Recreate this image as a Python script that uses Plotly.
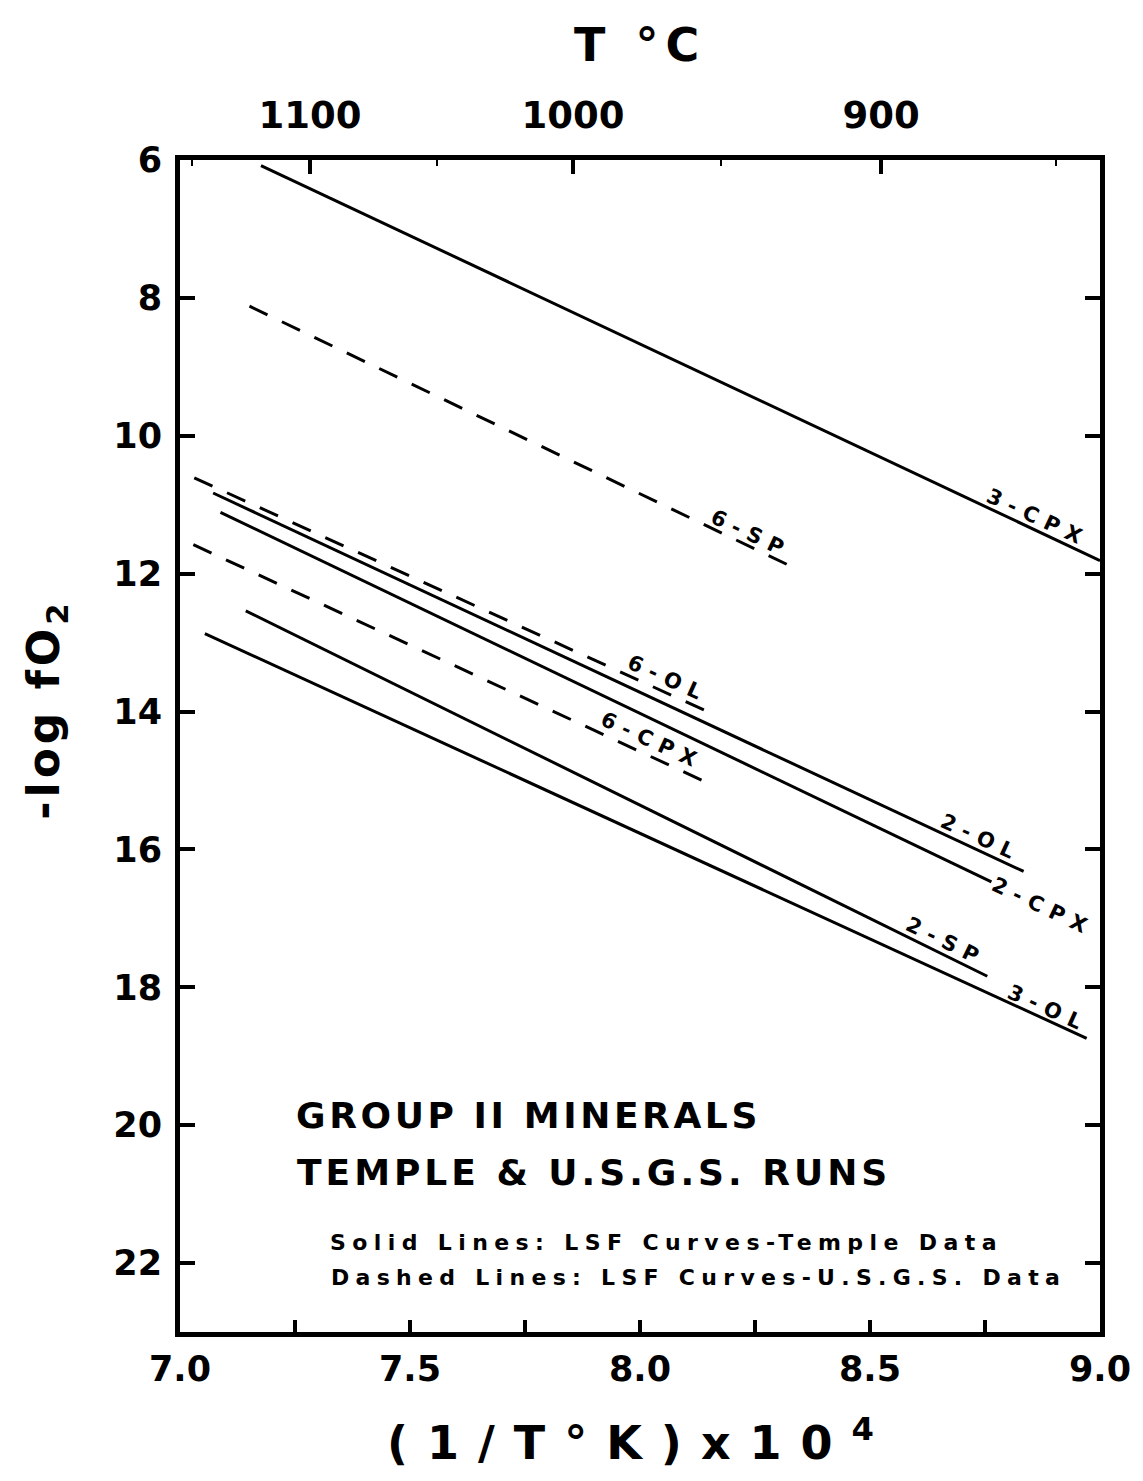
import math
import plotly.graph_objects as go

# Least-squares fO2 curves: -log fO2 versus (1/T K) x 10^4
line_names = ["3-CPX", "6-SP", "6-OL", "2-OL", "2-CPX", "6-CPX", "2-SP", "3-OL"]
line_source = ["Temple", "USGS", "USGS", "Temple", "Temple", "USGS", "Temple", "Temple"]
x_start = [7.176, 7.151, 7.031, 7.072, 7.088, 7.029, 7.143, 7.054]
x_end = [9.000, 8.327, 8.143, 8.834, 8.764, 8.139, 8.755, 8.971]
y_start = [6.08, 8.12, 10.61, 10.83, 11.11, 11.58, 12.54, 12.87]
y_end = [11.81, 11.89, 13.99, 16.32, 16.47, 15.01, 17.84, 18.74]

# axis ticks
x_tick_vals = [7.0, 7.5, 8.0, 8.5, 9.0]
y_tick_vals = [6, 8, 10, 12, 14, 16, 18, 20, 22]
temps_c = [1100, 1000, 900]
temps_minor_c = [1150, 1050, 950, 850]

# where each curve's label sits along its line (x), and how far above it (px)
label_x = [8.866, 8.241, 8.062, 8.742, 8.877, 8.027, 8.666, 8.889]
label_lift = [14, 13, 15, 14, 0, 16, 14, 12]

W, H = 1143, 1481
ML, MR, MT, MB = 180, 33, 160, 149
X_RANGE = [7.0, 9.0]
Y_RANGE = [23.0, 6.0]
px_per_x = (W - ML - MR) / (X_RANGE[1] - X_RANGE[0])
px_per_y = (H - MT - MB) / (Y_RANGE[0] - Y_RANGE[1])

FONT = "DejaVu Sans"


def spaced(text, px):
    return f'<span style="letter-spacing:{px}px">{text}</span>'


def to_kelvin_axis(t_c):
    return 1e4 / (t_c + 273.15)


fig = go.Figure()

for i, name in enumerate(line_names):
    dash = "solid" if line_source[i] == "Temple" else "20px,16px"
    fig.add_trace(go.Scatter(
        x=[x_start[i], x_end[i]], y=[y_start[i], y_end[i]],
        mode="lines", name=name, showlegend=False, hoverinfo="skip",
        line=dict(color="black", width=3, dash=dash),
    ))

# invisible trace carrying the temperature axis on top
fig.add_trace(go.Scatter(
    x=X_RANGE, y=[None, None], xaxis="x2", yaxis="y",
    mode="lines", showlegend=False, hoverinfo="skip",
))

annotations = []
for i, name in enumerate(line_names):
    slope = (y_end[i] - y_start[i]) / (x_end[i] - x_start[i])
    xl = label_x[i]
    yl = y_start[i] + slope * (xl - x_start[i])
    angle = math.degrees(math.atan(slope * px_per_y / px_per_x))
    annotations.append(dict(
        x=xl, y=yl, xref="x", yref="y", showarrow=False,
        text=spaced(name, 8), textangle=angle, yshift=label_lift[i],
        xanchor="center", yanchor="middle",
        font=dict(family=FONT, size=21, color="black", weight="bold"),
    ))

# caption block inside the plot
caption = [
    ("GROUP II MINERALS", 7.248, 19.86, 36, 3.6),
    ("TEMPLE &amp; U.S.G.S. RUNS", 7.250, 20.69, 36, 4.0),
    ("Solid Lines: LSF Curves-Temple Data", 7.321, 21.70, 22, 6.4),
    ("Dashed Lines: LSF Curves-U.S.G.S. Data", 7.323, 22.21, 22, 6.3),
]
for text, cx, cy, size, sp in caption:
    annotations.append(dict(
        x=cx, y=cy, xref="x", yref="y", showarrow=False,
        text=spaced(text, sp), xanchor="left", yanchor="middle",
        font=dict(family=FONT, size=size, color="black", weight="bold"),
    ))

# axis titles
annotations += [
    dict(x=0.50, y=1.098, xref="paper", yref="paper", showarrow=False,
         text=spaced("T °C", 7), xanchor="center", yanchor="middle",
         font=dict(family=FONT, size=46, color="black", weight="bold")),
    dict(x=-0.1460, y=0.5307, xref="paper", yref="paper", showarrow=False,
         text=spaced("-log fO<sub>2</sub>", 4), textangle=-90,
         xanchor="center", yanchor="middle",
         font=dict(family=FONT, size=44, color="black", weight="bold")),
    dict(x=0.500, y=-0.0922, xref="paper", yref="paper", showarrow=False,
         text=spaced("(1/T°K)x10<sup>4</sup>", 19),
         xanchor="center", yanchor="middle",
         font=dict(family=FONT, size=46, color="black", weight="bold")),
]

tick_font = dict(family=FONT, size=35, color="black", weight="bold")

fig.update_layout(
    width=W, height=H,
    margin=dict(l=ML, r=MR, t=MT, b=MB, pad=0),
    paper_bgcolor="white", plot_bgcolor="white",
    showlegend=False,
    annotations=annotations,
    xaxis=dict(
        range=X_RANGE, showgrid=False, zeroline=False,
        showline=True, linewidth=5, linecolor="black", mirror=True,
        tickmode="array", tickvals=x_tick_vals,
        ticktext=[f"{v:.1f}" for v in x_tick_vals],
        ticks="inside", ticklen=12, tickwidth=4, tickcolor="black",
        tickfont=tick_font, ticklabelstandoff=2, ticklabeloverflow="allow",
        minor=dict(tickmode="linear", tick0=7.0, dtick=0.25, ticks="inside",
                   ticklen=12, tickwidth=4, tickcolor="black", showgrid=False),
    ),
    xaxis2=dict(
        range=X_RANGE, overlaying="x", side="top", anchor="y",
        showgrid=False, zeroline=False, showline=False,
        tickmode="array", tickvals=[to_kelvin_axis(t) for t in temps_c],
        ticktext=[str(t) for t in temps_c],
        ticks="inside", ticklen=14, tickwidth=4, tickcolor="black",
        tickfont=dict(family=FONT, size=37, color="black", weight="bold"),
        ticklabelstandoff=24, ticklabeloverflow="allow",
        minor=dict(tickmode="array",
                   tickvals=[to_kelvin_axis(t) for t in temps_minor_c],
                   ticks="inside", ticklen=6, tickwidth=2, tickcolor="black",
                   showgrid=False),
    ),
    yaxis=dict(
        range=Y_RANGE, showgrid=False, zeroline=False,
        showline=True, linewidth=5, linecolor="black", mirror="ticks",
        tickmode="array", tickvals=y_tick_vals,
        ticktext=[str(v) for v in y_tick_vals],
        ticks="inside", ticklen=15, tickwidth=4, tickcolor="black",
        tickfont=tick_font, ticklabelstandoff=6,
    ),
)

fig.write_html("out.html")
